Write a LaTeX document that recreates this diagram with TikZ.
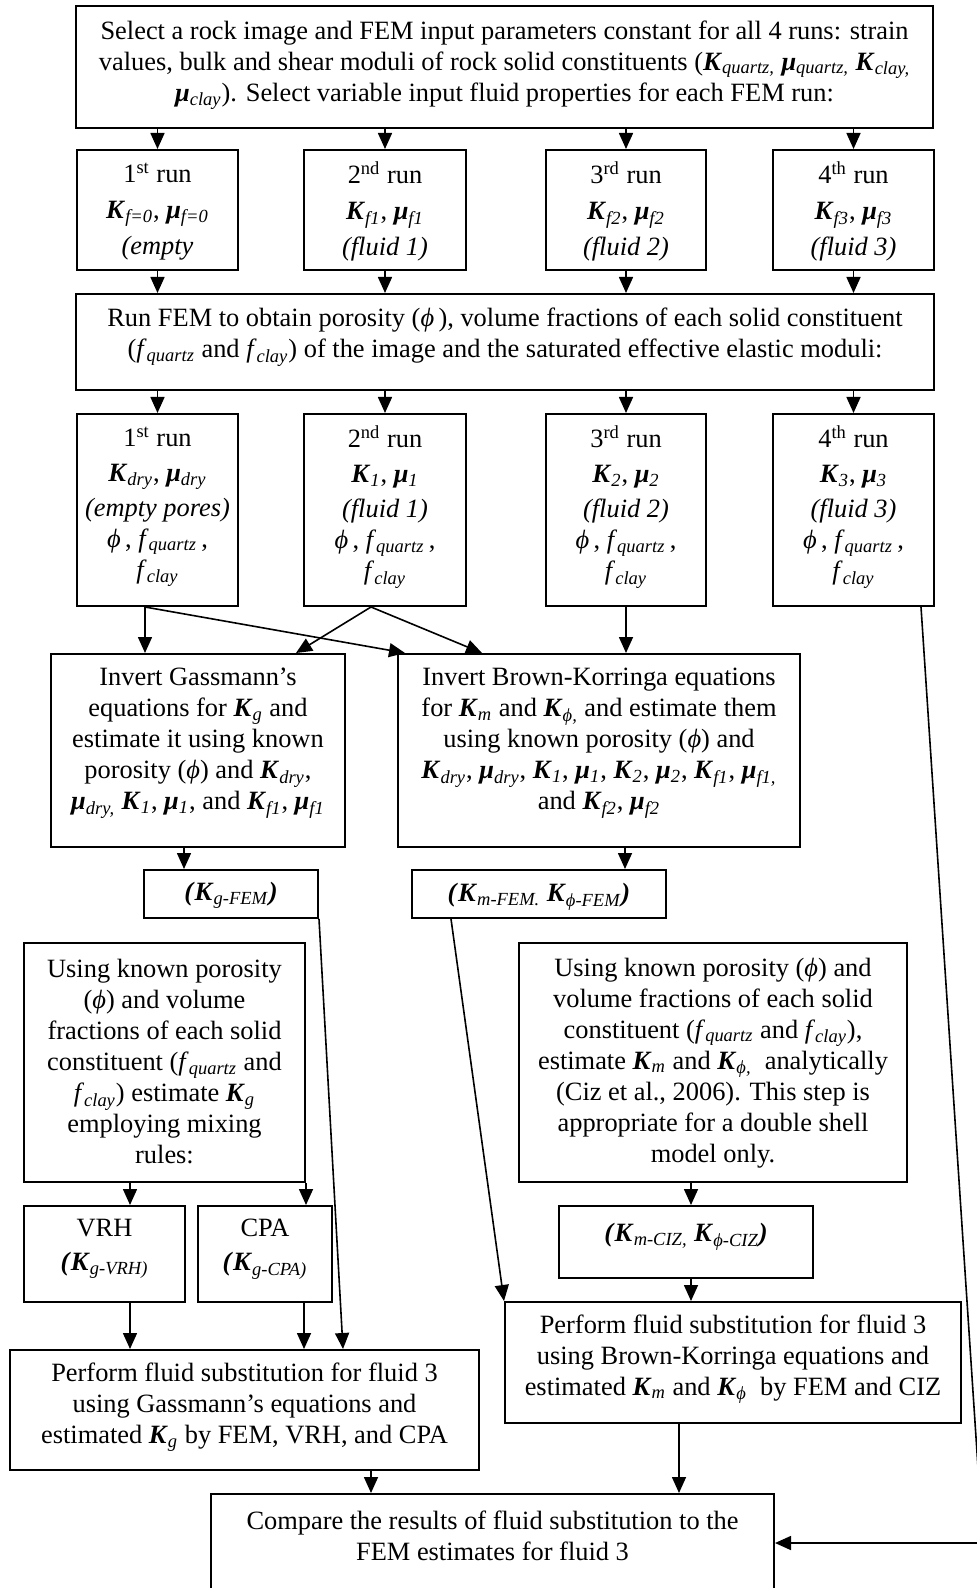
\documentclass[tikz,border=0pt]{standalone}
\usepackage{fontspec}
\setmainfont{Liberation Serif}
\usetikzlibrary{arrows.meta,fit,calc}
\newcommand\bi[1]{\textbf{\textit{#1}}}
\newcommand\KK[1]{\bi{K}\textsubscript{\textit{#1}}}
\newcommand\MU[1]{\bi{μ}\textsubscript{\textit{#1}}}
\newcommand\FF[1]{\textit{f}\textsubscript{\textit{#1}}}
\newcommand\PH{\textit{ϕ}}
\newcommand\bx[5]{\node[bx, fit={(#2,#3) (#4,#5)}] (#1) {};}
\begin{document}
\begin{tikzpicture}[x=0.5pt,y=-0.5pt,
 bx/.style={draw, line width=1pt, inner sep=0pt},
 tx/.style={align=center, inner sep=0pt, font=\fontsize{13.2}{15.5}\selectfont},
 arr/.style={line width=0.8pt, -{Triangle[length=8pt,width=7pt]}},
 ln/.style={line width=0.8pt}]
\useasboundingbox (0,0) rectangle (977,1588);
% boxes
\bx{top}{76}{6}{933}{128}
\bx{ra}{77}{150}{238}{270}
\bx{rb}{304}{150}{466}{270}
\bx{rc}{546}{150}{706}{270}
\bx{rd}{773}{150}{934}{270}
\bx{fem}{76}{294}{934}{390}
\bx{sa}{77}{414}{238}{606}
\bx{sb}{304}{414}{466}{606}
\bx{sc}{546}{414}{706}{606}
\bx{sd}{773}{414}{934}{606}
\bx{ig}{51}{654}{345}{847}
\bx{ib}{398}{654}{800}{847}
\bx{kg}{144}{870}{318}{918}
\bx{km}{412}{870}{666}{918}
\bx{ul}{24}{943}{305}{1182}
\bx{ur}{519}{943}{907}{1182}
\bx{vrh}{24}{1206}{185}{1302}
\bx{cpa}{198}{1206}{332}{1302}
\bx{ciz}{559}{1206}{813}{1278}
\bx{pg}{10}{1350}{479}{1470}
\bx{pb}{505}{1302}{961}{1423}
\bx{cmp}{211}{1494}{774}{1592}
% texts
\node[tx] (ttop) at (504.5,65) {Select a rock image and FEM input parameters constant for all 4 runs: strain\\ values, bulk and shear moduli of rock solid constituents (\KK{quartz,} \MU{quartz,} \KK{clay,}\\ \MU{clay}). Select variable input fluid properties for each FEM run:};
\node[tx] (tra) at (157.5,211.5) {1\textsuperscript{st} run\\[2.5pt] \KK{f=0}, \MU{f=0}\\[2.5pt] \textit{(empty}};
\node[tx] (trb) at (385,211.5) {2\textsuperscript{nd} run\\[2.5pt] \KK{f1}, \MU{f1}\\[2.5pt] \textit{(fluid 1)}};
\node[tx] (trc) at (626,211.5) {3\textsuperscript{rd} run\\[2.5pt] \KK{f2}, \MU{f2}\\[2.5pt] \textit{(fluid 2)}};
\node[tx] (trd) at (853.5,211.5) {4\textsuperscript{th} run\\[2.5pt] \KK{f3}, \MU{f3}\\[2.5pt] \textit{(fluid 3)}};
\node[tx] (tfem) at (505,337) {Run FEM to obtain porosity (\PH\,), volume fractions of each solid constituent\\ (\FF{quartz} and \FF{clay}) of the image and the saturated effective elastic moduli:};
\node[tx] (tsa) at (157.5,507) {1\textsuperscript{st} run\\[2pt] \KK{dry}, \MU{dry}\\[2pt] \textit{(empty pores)}\\ \PH\,, \FF{quartz}\,,\\ \FF{clay}};
\node[tx] (tsb) at (385,507) {2\textsuperscript{nd} run\\[2pt] \KK{1}, \MU{1}\\[2pt] \textit{(fluid 1)}\\ \PH\,, \FF{quartz}\,,\\ \FF{clay}};
\node[tx] (tsc) at (626,507) {3\textsuperscript{rd} run\\[2pt] \KK{2}, \MU{2}\\[2pt] \textit{(fluid 2)}\\ \PH\,, \FF{quartz}\,,\\ \FF{clay}};
\node[tx] (tsd) at (853.5,507) {4\textsuperscript{th} run\\[2pt] \KK{3}, \MU{3}\\[2pt] \textit{(fluid 3)}\\ \PH\,, \FF{quartz}\,,\\ \FF{clay}};
\node[tx] (tig) at (198,743.5) {Invert Gassmann’s\\ equations for \KK{g} and\\ estimate it using known\\ porosity (\PH) and \KK{dry},\\ \MU{dry,} \KK{1}, \MU{1}, and \KK{f1}, \MU{f1}};
\node[tx] (tib) at (599,743.5) {Invert Brown-Korringa equations\\ for \KK{m} and \KK{\PH,} and estimate them\\ using known porosity (\PH) and\\ \KK{dry}, \MU{dry}, \KK{1}, \MU{1}, \KK{2}, \MU{2}, \KK{f1}, \MU{f1,}\\ and \KK{f2}, \MU{f2}};
\node[tx] (tkg) at (231,895) {\bi{(}\KK{g-FEM}\bi{)}};
\node[tx] (tkm) at (539,897) {\bi{(}\KK{m-FEM.} \KK{\PH-FEM}\bi{)}};
\node[tx] (tul) at (164.5,1061.5) {Using known porosity\\ (\PH) and volume\\ fractions of each solid\\ constituent (\FF{quartz} and\\ \FF{clay}) estimate \KK{g}\\ employing mixing\\ rules:};
\node[tx] (tur) at (713,1063) {Using known porosity (\PH) and\\ volume fractions of each solid\\ constituent (\FF{quartz} and \FF{clay}),\\ estimate \KK{m} and \KK{\PH,}~ analytically\\ (Ciz et al., 2006). This step is\\ appropriate for a double shell\\ model only.};
\node[tx] (tvrh) at (104.5,1249) {VRH\\[1.5pt] \bi{(}\KK{g-VRH)}};
\node[tx] (tcpa) at (265,1249) {CPA\\[1.5pt] \bi{(}\KK{g-CPA)}};
\node[tx] (tciz) at (686,1237) {\bi{(}\KK{m-CIZ,} \KK{\PH-CIZ}\bi{)}};
\node[tx] (tpg) at (244.5,1407) {Perform fluid substitution for fluid 3\\ using Gassmann’s equations and\\ estimated \KK{g} by FEM, VRH, and CPA};
\node[tx] (tpb) at (733,1359) {Perform fluid substitution for fluid 3\\ using Brown-Korringa equations and\\ estimated \KK{m} and \KK{\PH}~ by FEM and CIZ};
\node[tx] (tcmp) at (492.5,1535.5) {Compare the results of fluid substitution to the\\ FEM estimates for fluid 3};
% connectors
\foreach \b in {ra,rb,rc,rd} {\draw[arr] (top.south -| \b.north) -- (\b.north);}
\foreach \b in {ra,rb,rc,rd} {\draw[arr] (\b.south) -- (\b.south |- fem.north);}
\foreach \b in {sa,sb,sc,sd} {\draw[arr] (fem.south -| \b.north) -- (\b.north);}
\coordinate (sa1) at ($(sa.south)+(-12.5,0)$);
\draw[arr] (sa1) -- (sa1 |- ig.north);
\draw[arr] (sa1) -- ($(ib.north west)+(8,0)$);
\coordinate (sb1) at ($(sb.south)+(-14,0)$);
\draw[arr] (sb1) -- ($(ig.north west)+(246,0)$);
\draw[arr] (sb1) -- ($(ib.north west)+(85,0)$);
\draw[arr] (sc.south) -- (sc.south |- ib.north);
\coordinate (sd1) at ($(sd.south)+(67.5,0)$);
\coordinate (corner) at (983,1543);
\draw[ln] (sd1) -- (corner);
\draw[arr] (corner) -- (cmp.east);
\coordinate (ig1) at ($(kg.north west)+(41,0)$);
\draw[arr] (ig1 |- ig.south) -- (ig1);
\coordinate (ib1) at ($(km.north west)+(214,0)$);
\draw[arr] (ib1 |- ib.south) -- (ib1);
\draw[arr] (kg.south east) -- ($(pg.north west)+(334,0)$);
\draw[arr] ($(km.south west)+(40,0)$) -- (pb.north west);
\draw[arr] ($(ul.south west)+(107,0)$) -- ($(vrh.north west)+(107,0)$);
\draw[arr] (ul.south east) -- (ul.south east |- cpa.north);
\coordinate (c1) at ($(ciz.north west)+(133,0)$);
\draw[arr] (c1 |- ur.south) -- (c1);
\draw[arr] (c1 |- ciz.south) -- (c1 |- pb.north);
\draw[arr] ($(vrh.south west)+(107,0)$) -- ($(pg.north west)+(121,0)$);
\draw[arr] ($(cpa.south west)+(107,0)$) -- ($(pg.north west)+(295,0)$);
\draw[arr] ($(pg.south west)+(362,0)$) -- ($(cmp.north west)+(161,0)$);
\draw[arr] ($(pb.south west)+(175,0)$) -- ($(cmp.north west)+(469,0)$);
\end{tikzpicture}
\end{document}
